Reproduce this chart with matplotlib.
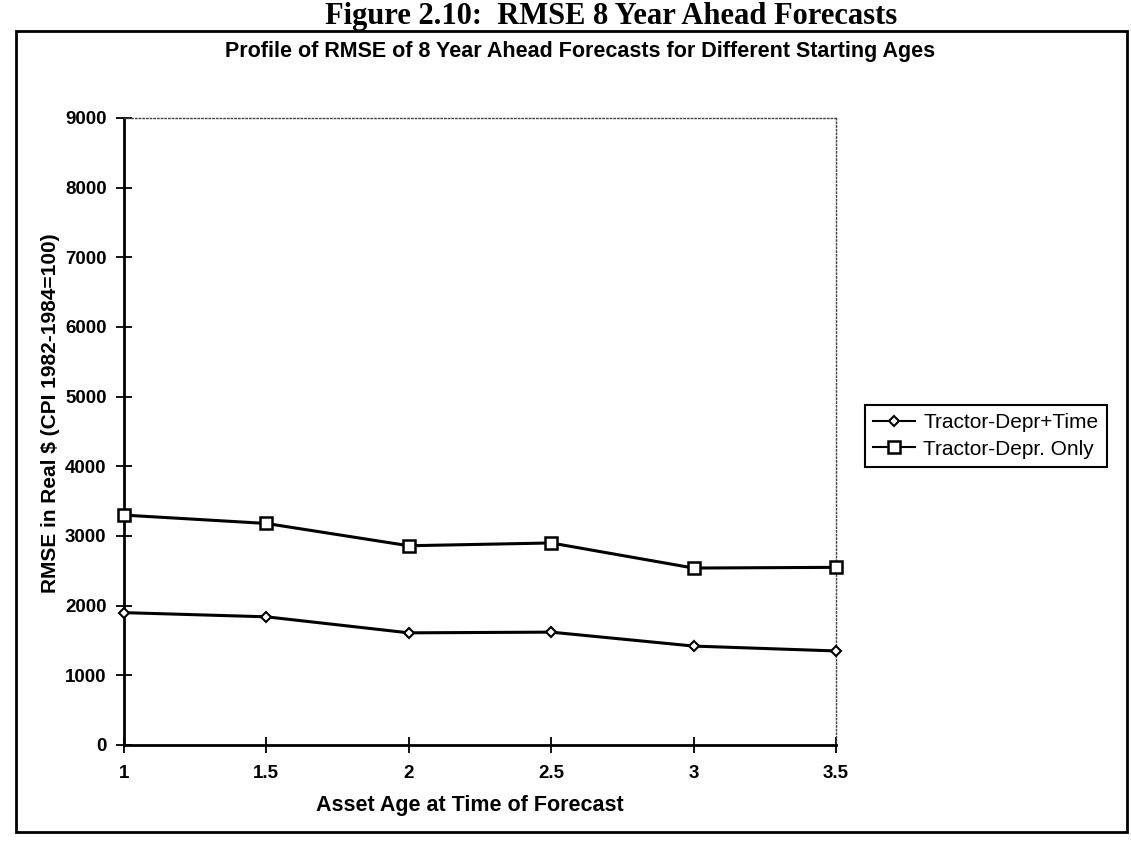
import numpy as np
import matplotlib
matplotlib.use("Agg")
import matplotlib.pyplot as plt
from matplotlib.patches import Rectangle

plt.rcParams['font.family'] = ['Liberation Sans', 'DejaVu Sans']

# RMSE of 8 year ahead forecasts by starting age
ages = [1, 1.5, 2, 2.5, 3, 3.5]
depr_time = [1900, 1840, 1610, 1620, 1420, 1350]
depr_only = [3300, 3180, 2860, 2900, 2540, 2550]
yticks = [0, 1000, 2000, 3000, 4000, 5000, 6000, 7000, 8000, 9000]

fig = plt.figure(figsize=(11.31, 8.44), dpi=100)
ax = fig.add_axes([0.1096, 0.1173, 0.6295, 0.7429])

ax.plot(ages, depr_time, color='black', lw=2.2, marker='D', ms=5,
        mfc='white', mec='black', mew=1.5, clip_on=False, zorder=3,
        label='Tractor-Depr+Time')
ax.plot(ages, depr_only, color='black', lw=2.2, marker='s', ms=8,
        mfc='white', mec='black', mew=1.8, clip_on=False, zorder=3,
        label='Tractor-Depr. Only')

ax.set_xlim(1, 3.5)
ax.set_ylim(0, 9000)
ax.set_xticks(ages)
ax.set_xticklabels(['1', '1.5', '2', '2.5', '3', '3.5'])
ax.set_yticks(yticks)

for side in ['left', 'bottom']:
    ax.spines[side].set_linewidth(2)
for side in ['top', 'right']:
    ax.spines[side].set_linestyle(':')
    ax.spines[side].set_linewidth(1)
    ax.spines[side].set_color('#444444')

ax.tick_params(direction='inout', length=11, width=1.3, labelsize=13.5, pad=7)
ax.tick_params(axis='x', pad=9)
for lab in ax.get_xticklabels() + ax.get_yticklabels():
    lab.set_fontweight('bold')

ax.set_xlabel('Asset Age at Time of Forecast', fontsize=15.5, fontweight='bold', labelpad=10)
ax.xaxis.set_label_coords((470 - 124) / (836 - 124), -0.08)
ax.set_ylabel('RMSE in Real $ (CPI 1982-1984=100)', fontsize=15, fontweight='bold', labelpad=5)
ax.yaxis.set_label_coords((60 - 124) / (836 - 124), (745 - 413) / (745 - 118))

fig.text(580 / 1131, 1 - 52 / 844,
         'Profile of RMSE of 8 Year Ahead Forecasts for Different Starting Ages',
         ha='center', va='center', fontsize=15.5, fontweight='bold')

# page header above the boxed chart
fig.text(611 / 1131, 1 - 24 / 844, 'Figure 2.10:  RMSE 8 Year Ahead Forecasts',
         ha='center', va='baseline', fontsize=22, fontweight='bold',
         family=['Liberation Serif', 'DejaVu Serif'])

# outer frame
fig.patches.append(Rectangle((16 / 1131, 1 - 832 / 844), (1127 - 16) / 1131, (832 - 31) / 844,
                             transform=fig.transFigure, fill=False, lw=2, edgecolor='black'))

leg = fig.legend(loc='upper left', bbox_to_anchor=(865 / 1131, 1 - 405 / 844),
                 fontsize=15, frameon=True, fancybox=False, framealpha=1,
                 edgecolor='black', handlelength=2.0, handletextpad=0.4,
                 labelspacing=0.35, borderpad=0.4, borderaxespad=0)
leg.get_frame().set_linewidth(1.5)
for h in leg.get_lines():
    h.set_linewidth(1.5)

fig.savefig('out.png', dpi=100)
